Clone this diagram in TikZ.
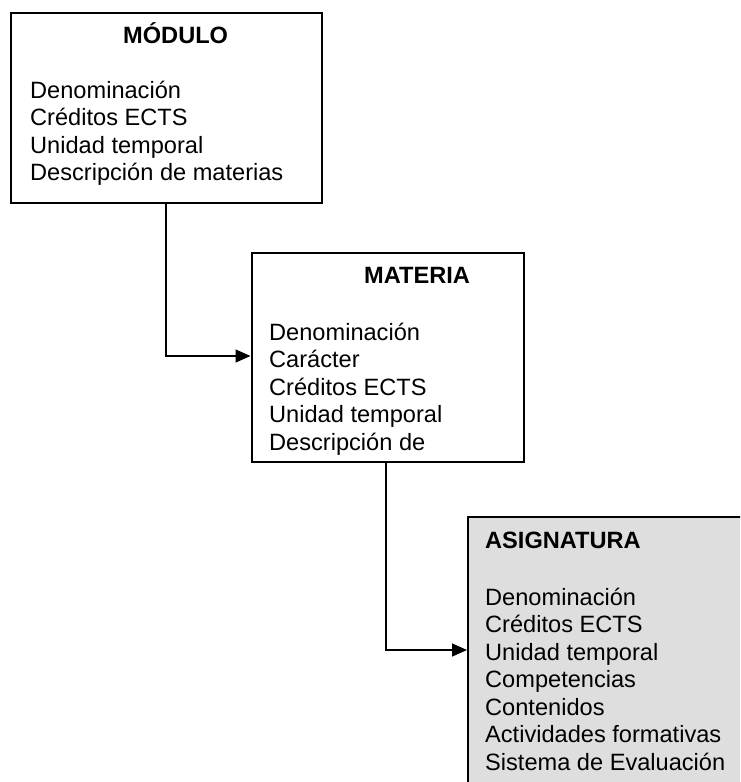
\documentclass[tikz,border=0pt]{standalone}
\usepackage{fontspec}
\setmainfont{Liberation Sans}
\usetikzlibrary{arrows.meta,positioning,calc}

\begin{document}
\begin{tikzpicture}[x=1pt, y=-1pt, >={Triangle[length=15pt,width=13pt]}, font=\fontsize{23.6}{27.5}\selectfont]
\tikzstyle{box}=[draw=black, line width=2pt, inner sep=0pt, anchor=north west]
\tikzstyle{title}=[font=\fontsize{23.6}{27.5}\selectfont\bfseries, inner sep=0pt, anchor=base west]
\tikzstyle{items}=[align=left, inner sep=0pt, anchor=base west]
\tikzstyle{link}=[->, line width=1.5pt]
\clip (0,0) rectangle (740,782);
% boxes
\node[box, minimum width=311pt, minimum height=190pt] (modulo) at (10,12) {};
\node[box, minimum width=272pt, minimum height=209pt] (materia) at (250.5,252) {};
\node[box, fill=black!13, minimum width=300pt, minimum height=300pt] (asignatura) at (467,516) {};
% texts (base = last line)
\node[title] (tmodulo) at (123,43) {MÓDULO};
\node[items] (imodulo) at (30,180.5) {Denominación\\Créditos ECTS\\Unidad temporal\\Descripción de materias};
\node[title] (tmateria) at (364,283) {MATERIA};
\node[items] (imateria) at (269,450) {Denominación\\Carácter\\Créditos ECTS\\Unidad temporal\\Descripción de};
\node[title] (tasignatura) at (485,548) {ASIGNATURA};
\node[items] (iasignatura) at (485,770) {Denominación\\Créditos ECTS\\Unidad temporal\\Competencias\\Contenidos\\Actividades formativas\\Sistema de Evaluación};
% connectors
\coordinate (bendA) at (166,356);
\coordinate (bendB) at (386,650);
\draw[link] (modulo.south -| bendA) |- (materia.west |- bendA);
\draw[link] (materia.south -| bendB) |- (asignatura.west |- bendB);
\end{tikzpicture}
\end{document}
